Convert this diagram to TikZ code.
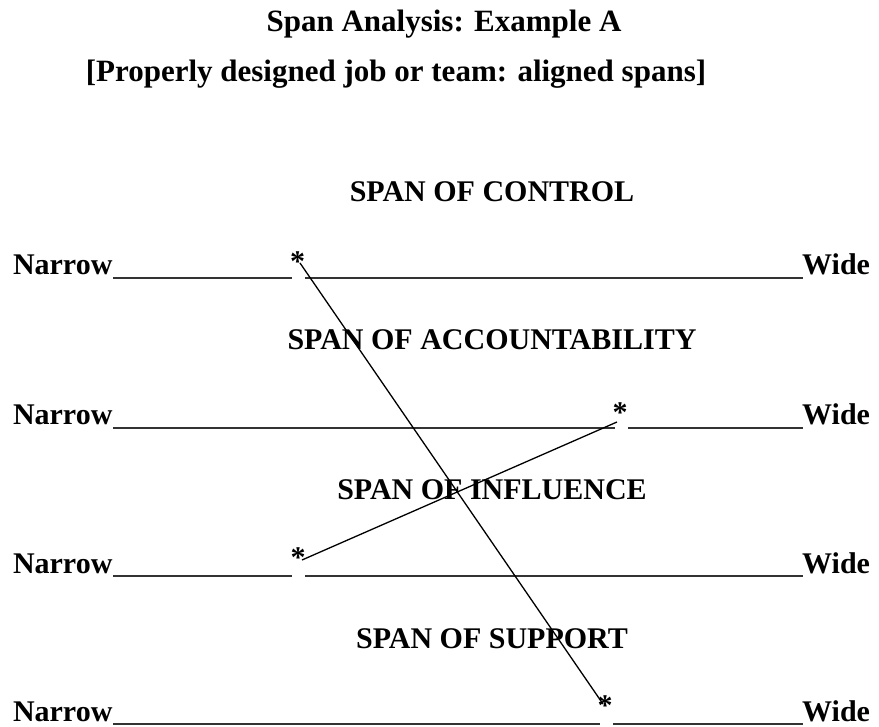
\documentclass[tikz,border=0pt]{standalone}
\usepackage{fontspec}
\setmainfont{Liberation Serif}
\begin{document}
\begin{tikzpicture}[x=1pt,y=-1pt,
  txt/.style={inner sep=0pt,outer sep=0pt,font=\fontsize{30}{35}\selectfont\bfseries},
  ttl/.style={inner sep=0pt,outer sep=0pt,font=\fontsize{31}{36}\selectfont\bfseries},
  starmark/.style={inner sep=0pt,outer sep=0pt,font=\fontsize{30}{35}\selectfont\bfseries},
  rule/.style={line width=1.4pt,black!80},
  link/.style={line width=1.3pt,black}]
\useasboundingbox (0,0) rectangle (879,727);
% titles
\node[ttl,anchor=base] (title) at (444,32) {Span Analysis: Example A};
\node[ttl,anchor=base] (subtitle) at (396,82) {[Properly designed job or team: aligned spans]};
% headings
\node[txt,anchor=base] (h1) at (492,202) {SPAN OF CONTROL};
\node[txt,anchor=base] (h2) at (492,350) {SPAN OF ACCOUNTABILITY};
\node[txt,anchor=base] (h3) at (492,500) {SPAN OF INFLUENCE};
\node[txt,anchor=base] (h4) at (492,648) {SPAN OF SUPPORT};
% rows
\foreach \i/\y/\gl/\gr in {1/275/292/305, 2/425/615/628, 3/573/292/305, 4/721/600/613}{
  \node[txt,anchor=base west] (n\i) at (13,\y) {Narrow};
  \node[txt,anchor=base east] (w\i) at (870,\y) {Wide};
  \coordinate (u\i a) at (113,\y+3);
  \coordinate (u\i b) at (\gl,\y+3);
  \coordinate (u\i c) at (\gr,\y+3);
  \coordinate (u\i d) at (803,\y+3);
  \draw[rule] (u\i a) -- (u\i b) (u\i c) -- (u\i d);
}
% stars
\node[starmark,anchor=center] (s1) at (297.5,261.5) {*};
\node[starmark,anchor=center] (s2) at (620,413) {*};
\node[starmark,anchor=center] (s3) at (298,558) {*};
\node[starmark,anchor=center] (s4) at (605,706) {*};
% connector end points
\coordinate (a1) at (300,263);
\coordinate (a4) at (603,704);
\coordinate (b3) at (302,560);
\coordinate (b2) at (617,422);
\draw[link] (a1) -- (a4);
\draw[link] (b3) -- (b2);
\end{tikzpicture}
\end{document}
